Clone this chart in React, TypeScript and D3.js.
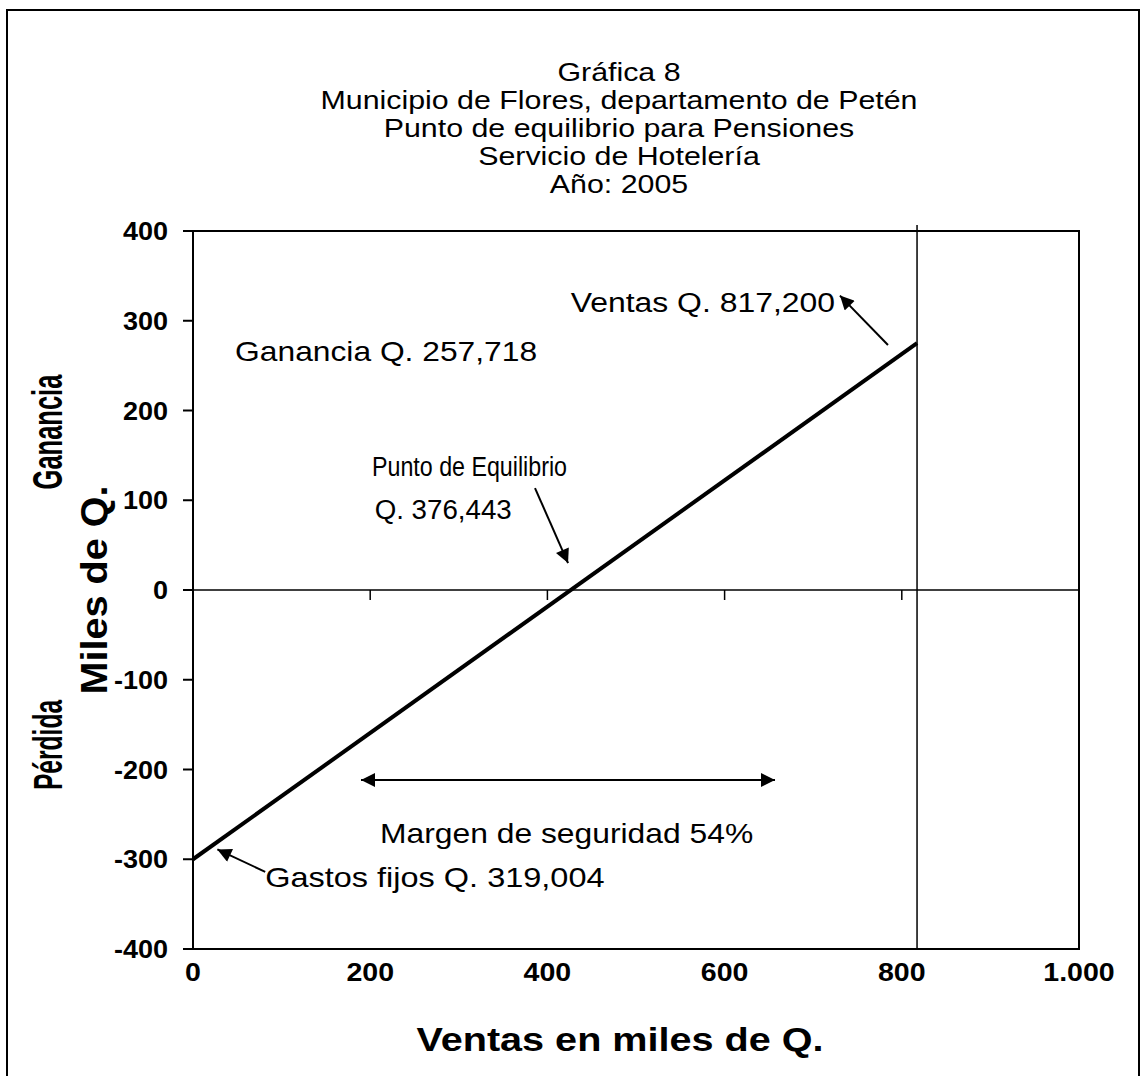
import React from "react";
import * as d3 from "d3";

const titleLines = [
  "Gráfica 8",
  "Municipio de Flores, departamento de Petén",
  "Punto de equilibrio para Pensiones",
  "Servicio de Hotelería",
  "Año: 2005",
];
const xTicks = [0, 200, 400, 600, 800, 1000];
const xTickLabels = ["0", "200", "400", "600", "800", "1.000"];
const yTicks = [400, 300, 200, 100, 0, -100, -200, -300, -400];
const salesLevel = 817.2;
// break-even line: sales (thousands) vs profit (thousands)
const lineX = [0, 817.2];
const lineY = [-300, 275];

const W = 1141;
const H = 1076;
const M = { left: 193, right: 1079, top: 231, bottom: 949 };
const FONT = "'Liberation Sans', Arial, sans-serif";

export default function App() {
  const x = d3.scaleLinear().domain([0, 1000]).range([M.left, M.right]);
  const y = d3.scaleLinear().domain([-400, 400]).range([M.bottom, M.top]);
  const pts: [number, number][] = lineX.map((v, i) => [v, lineY[i]]);
  const path = d3.line<[number, number]>().x((d) => x(d[0])).y((d) => y(d[1]))(pts) || "";

  const arrows = [
    { x1: 784.4, y1: 273, x2: 730.2, y2: 328, both: false },
    { x1: 386, y1: 113.6, x2: 423.3, y2: 30, both: false },
    { x1: 189.6, y1: -211.7, x2: 656.9, y2: -211.7, both: true },
    { x1: 81.5, y1: -314, x2: 27.5, y2: -289, both: false },
  ];
  const labels = [
    { t: "Ventas Q. 817,200", x: 724.6, y: 309.7, a: "end", s: 1.14 },
    { t: "Ganancia Q. 257,718", x: 47.5, y: 255.2, a: "start", s: 1.135 },
    { t: "Punto de Equilibrio", x: 202, y: 126.5, a: "start", s: 0.83 },
    { t: "Q. 376,443", x: 205, y: 79.5, a: "start", s: 0.99 },
    { t: "Margen de seguridad 54%", x: 211, y: -281.9, a: "start", s: 1.137 },
    { t: "Gastos fijos Q. 319,004", x: 81.5, y: -330.9, a: "start", s: 1.16 },
  ];

  const ht = (px: number, py: number, s: number) => `translate(${px},${py}) scale(${s},1)`;

  return (
    <svg width={W} height={H} style={{ position: "absolute", left: 0, top: 0, background: "#fff" }} fontFamily={FONT}>
      <defs>
        <marker id="ah" viewBox="0 0 10 10" refX="10" refY="5" markerWidth="17" markerHeight="14" markerUnits="userSpaceOnUse" orient="auto-start-reverse">
          <path d="M0,0 L10,5 L0,10 z" fill="#000" />
        </marker>
      </defs>
      <rect x={0} y={0} width={W} height={H} fill="#fff" />
      <rect x={7} y={10} width={1132} height={1100} fill="none" stroke="#000" strokeWidth={2} />
      {titleLines.map((t, i) => (
        <text key={i} transform={ht(619, 81 + i * 28, 1.19)} textAnchor="middle" fontSize={25.5} fill="#000">{t}</text>
      ))}
      {/* plot frame */}
      <rect x={M.left} y={M.top} width={M.right - M.left} height={M.bottom - M.top} fill="none" stroke="#000" strokeWidth={2} />
      {/* zero line */}
      <line x1={x(0)} x2={x(1000)} y1={y(0)} y2={y(0)} stroke="#000" strokeWidth={1.5} />
      {/* sales vertical */}
      <line x1={x(salesLevel)} x2={x(salesLevel)} y1={M.top - 6} y2={M.bottom} stroke="#000" strokeWidth={1.5} />
      {/* y ticks */}
      {yTicks.map((v) => (
        <g key={v}>
          <line x1={M.left - 10} x2={M.left} y1={y(v)} y2={y(v)} stroke="#000" strokeWidth={2} />
          <text transform={ht(168, y(v) + 9, 1.06)} textAnchor="end" fontSize={25.5} fontWeight="bold">{v}</text>
        </g>
      ))}
      {/* x ticks */}
      {xTicks.slice(1).map((v) => (
        <line key={v} x1={x(v)} x2={x(v)} y1={y(0)} y2={y(0) + 10} stroke="#000" strokeWidth={1.5} />
      ))}
      {xTicks.map((v, i) => (
        <text key={v} transform={ht(x(v), 981, 1.12)} textAnchor="middle" fontSize={25.5} fontWeight="bold">{xTickLabels[i]}</text>
      ))}
      <text transform={ht(620, 1051, 1.2)} textAnchor="middle" fontSize={33} fontWeight="bold">Ventas en miles de Q.</text>
      <text transform="translate(62,432) rotate(-90) scale(0.85,1.4)" textAnchor="middle" fontSize={30} fontWeight="bold">Ganancia</text>
      <text transform="translate(107,590) rotate(-90) scale(1.32,1.22)" textAnchor="middle" fontSize={30} fontWeight="bold">Miles de Q.</text>
      <text transform="translate(62,745) rotate(-90) scale(0.82,1.35)" textAnchor="middle" fontSize={30} fontWeight="bold">Pérdida</text>
      {/* break-even line */}
      <path d={path} fill="none" stroke="#000" strokeWidth={4} />
      {arrows.map((a, i) => (
        <line key={i} x1={x(a.x1)} y1={y(a.y1)} x2={x(a.x2)} y2={y(a.y2)} stroke="#000" strokeWidth={2}
          markerEnd="url(#ah)" markerStart={a.both ? "url(#ah)" : undefined} />
      ))}
      {labels.map((l, i) => (
        <text key={i} transform={ht(x(l.x), y(l.y), l.s)} textAnchor={l.a as any} fontSize={28}>{l.t}</text>
      ))}
    </svg>
  );
}
